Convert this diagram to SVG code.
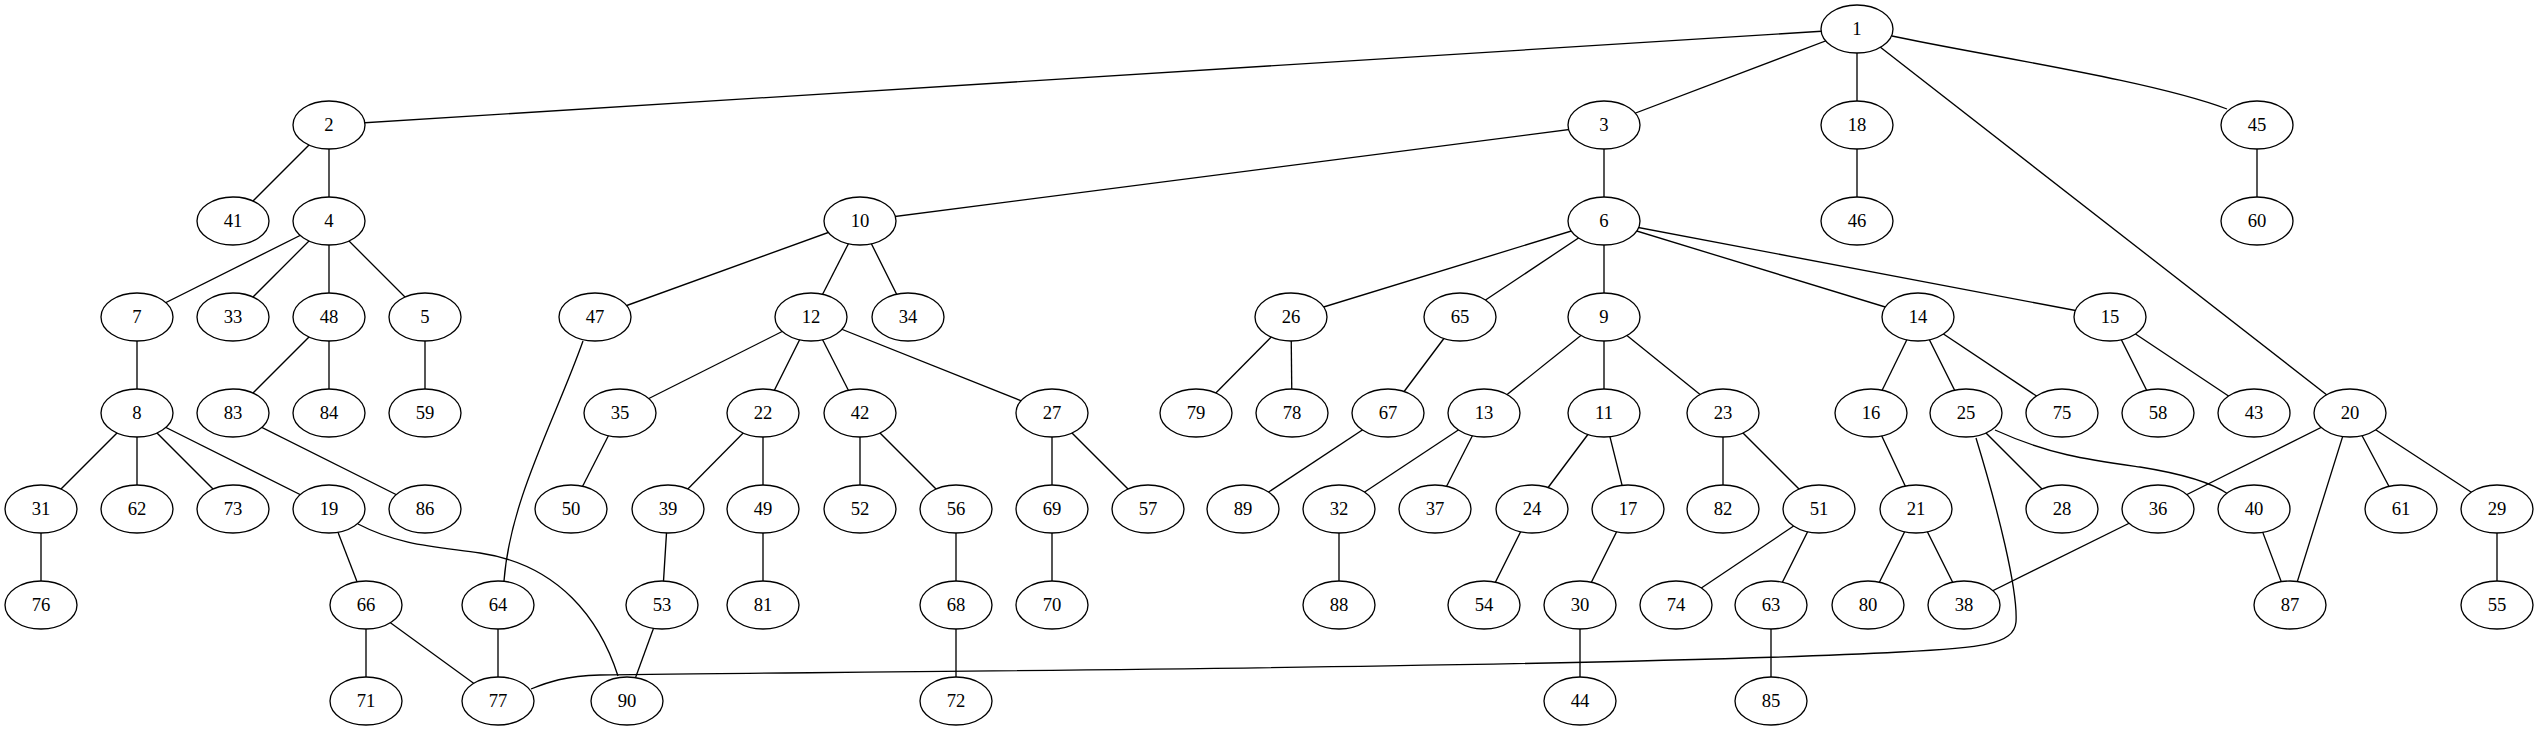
<svg xmlns="http://www.w3.org/2000/svg" width="2539" height="731" viewBox="0 0 2539 731">
<style>
.n ellipse{fill:#fff;stroke:#000;stroke-width:1.33}
.n text{font-family:"Liberation Serif",serif;font-size:18.67px;text-anchor:middle;fill:#000}
#edges line,#edges path{stroke:#000;stroke-width:1.33;fill:none}
</style>
<rect width="2539" height="731" fill="#fff"/>
<g id="edges">
<line x1="1857" y1="29" x2="329" y2="125"/>
<line x1="1857" y1="29" x2="1604" y2="125"/>
<line x1="1857" y1="29" x2="1857" y2="125"/>
<path d="M1892,36 C1980,55 2150,80 2227,109"/>
<line x1="1857" y1="29" x2="2350" y2="413"/>
<line x1="329" y1="125" x2="233" y2="221"/>
<line x1="329" y1="125" x2="329" y2="221"/>
<line x1="1604" y1="125" x2="860" y2="221"/>
<line x1="1604" y1="125" x2="1604" y2="221"/>
<line x1="1857" y1="125" x2="1857" y2="221"/>
<line x1="2257" y1="125" x2="2257" y2="221"/>
<line x1="329" y1="221" x2="137" y2="317"/>
<line x1="329" y1="221" x2="233" y2="317"/>
<line x1="329" y1="221" x2="329" y2="317"/>
<line x1="329" y1="221" x2="425" y2="317"/>
<line x1="860" y1="221" x2="595" y2="317"/>
<line x1="860" y1="221" x2="811" y2="317"/>
<line x1="860" y1="221" x2="908" y2="317"/>
<line x1="1604" y1="221" x2="1291" y2="317"/>
<line x1="1604" y1="221" x2="1460" y2="317"/>
<line x1="1604" y1="221" x2="1604" y2="317"/>
<line x1="1604" y1="221" x2="1918" y2="317"/>
<line x1="1604" y1="221" x2="2110" y2="317"/>
<line x1="137" y1="317" x2="137" y2="413"/>
<line x1="329" y1="317" x2="233" y2="413"/>
<line x1="329" y1="317" x2="329" y2="413"/>
<line x1="425" y1="317" x2="425" y2="413"/>
<path d="M583,341 C555,420 510,500 504,581"/>
<line x1="811" y1="317" x2="620" y2="413"/>
<line x1="811" y1="317" x2="763" y2="413"/>
<line x1="811" y1="317" x2="860" y2="413"/>
<line x1="811" y1="317" x2="1052" y2="413"/>
<line x1="1291" y1="317" x2="1196" y2="413"/>
<line x1="1291" y1="317" x2="1292" y2="413"/>
<line x1="1460" y1="317" x2="1388" y2="413"/>
<line x1="1604" y1="317" x2="1484" y2="413"/>
<line x1="1604" y1="317" x2="1604" y2="413"/>
<line x1="1604" y1="317" x2="1723" y2="413"/>
<line x1="1918" y1="317" x2="1871" y2="413"/>
<line x1="1918" y1="317" x2="1966" y2="413"/>
<line x1="1918" y1="317" x2="2062" y2="413"/>
<line x1="2110" y1="317" x2="2158" y2="413"/>
<line x1="2110" y1="317" x2="2254" y2="413"/>
<line x1="2350" y1="413" x2="2158" y2="509"/>
<line x1="2350" y1="413" x2="2290" y2="605"/>
<line x1="2350" y1="413" x2="2401" y2="509"/>
<line x1="2350" y1="413" x2="2497" y2="509"/>
<line x1="137" y1="413" x2="41" y2="509"/>
<line x1="137" y1="413" x2="137" y2="509"/>
<line x1="137" y1="413" x2="233" y2="509"/>
<line x1="137" y1="413" x2="329" y2="509"/>
<line x1="233" y1="413" x2="425" y2="509"/>
<line x1="620" y1="413" x2="571" y2="509"/>
<line x1="763" y1="413" x2="668" y2="509"/>
<line x1="763" y1="413" x2="763" y2="509"/>
<line x1="860" y1="413" x2="860" y2="509"/>
<line x1="860" y1="413" x2="956" y2="509"/>
<line x1="1052" y1="413" x2="1052" y2="509"/>
<line x1="1052" y1="413" x2="1148" y2="509"/>
<line x1="1388" y1="413" x2="1243" y2="509"/>
<line x1="1484" y1="413" x2="1339" y2="509"/>
<line x1="1484" y1="413" x2="1435" y2="509"/>
<line x1="1604" y1="413" x2="1532" y2="509"/>
<line x1="1604" y1="413" x2="1628" y2="509"/>
<line x1="1723" y1="413" x2="1723" y2="509"/>
<line x1="1723" y1="413" x2="1819" y2="509"/>
<line x1="1871" y1="413" x2="1916" y2="509"/>
<line x1="1966" y1="413" x2="2062" y2="509"/>
<path d="M1995,430 C2050,455 2090,460 2140,467 C2190,475 2215,485 2228,494"/>
<path d="M1976,438 C1998,510 2018,590 2016,622 C2014,645 1980,648 1900,652 C1600,668 800,672 600,675 C565,676 548,682 531,689"/>
<line x1="2158" y1="509" x2="1964" y2="605"/>
<line x1="2254" y1="509" x2="2290" y2="605"/>
<line x1="2497" y1="509" x2="2497" y2="605"/>
<line x1="41" y1="509" x2="41" y2="605"/>
<line x1="329" y1="509" x2="366" y2="605"/>
<path d="M358,524 C400,546 440,547 480,553 C560,565 600,620 618,676"/>
<line x1="668" y1="509" x2="662" y2="605"/>
<line x1="763" y1="509" x2="763" y2="605"/>
<line x1="956" y1="509" x2="956" y2="605"/>
<line x1="1052" y1="509" x2="1052" y2="605"/>
<line x1="1339" y1="509" x2="1339" y2="605"/>
<line x1="1532" y1="509" x2="1484" y2="605"/>
<line x1="1628" y1="509" x2="1580" y2="605"/>
<line x1="1819" y1="509" x2="1676" y2="605"/>
<line x1="1819" y1="509" x2="1771" y2="605"/>
<line x1="1916" y1="509" x2="1868" y2="605"/>
<line x1="1916" y1="509" x2="1964" y2="605"/>
<line x1="366" y1="605" x2="366" y2="701"/>
<line x1="366" y1="605" x2="498" y2="701"/>
<line x1="498" y1="605" x2="498" y2="701"/>
<line x1="662" y1="605" x2="627" y2="701"/>
<line x1="956" y1="605" x2="956" y2="701"/>
<line x1="1580" y1="605" x2="1580" y2="701"/>
<line x1="1771" y1="605" x2="1771" y2="701"/>
</g>
<g id="n1" class="n"><ellipse cx="1857" cy="29" rx="36" ry="24"/><text x="1857" y="35">1</text></g>
<g id="n2" class="n"><ellipse cx="329" cy="125" rx="36" ry="24"/><text x="329" y="131">2</text></g>
<g id="n3" class="n"><ellipse cx="1604" cy="125" rx="36" ry="24"/><text x="1604" y="131">3</text></g>
<g id="n18" class="n"><ellipse cx="1857" cy="125" rx="36" ry="24"/><text x="1857" y="131">18</text></g>
<g id="n45" class="n"><ellipse cx="2257" cy="125" rx="36" ry="24"/><text x="2257" y="131">45</text></g>
<g id="n41" class="n"><ellipse cx="233" cy="221" rx="36" ry="24"/><text x="233" y="227">41</text></g>
<g id="n4" class="n"><ellipse cx="329" cy="221" rx="36" ry="24"/><text x="329" y="227">4</text></g>
<g id="n10" class="n"><ellipse cx="860" cy="221" rx="36" ry="24"/><text x="860" y="227">10</text></g>
<g id="n6" class="n"><ellipse cx="1604" cy="221" rx="36" ry="24"/><text x="1604" y="227">6</text></g>
<g id="n46" class="n"><ellipse cx="1857" cy="221" rx="36" ry="24"/><text x="1857" y="227">46</text></g>
<g id="n60" class="n"><ellipse cx="2257" cy="221" rx="36" ry="24"/><text x="2257" y="227">60</text></g>
<g id="n7" class="n"><ellipse cx="137" cy="317" rx="36" ry="24"/><text x="137" y="323">7</text></g>
<g id="n33" class="n"><ellipse cx="233" cy="317" rx="36" ry="24"/><text x="233" y="323">33</text></g>
<g id="n48" class="n"><ellipse cx="329" cy="317" rx="36" ry="24"/><text x="329" y="323">48</text></g>
<g id="n5" class="n"><ellipse cx="425" cy="317" rx="36" ry="24"/><text x="425" y="323">5</text></g>
<g id="n47" class="n"><ellipse cx="595" cy="317" rx="36" ry="24"/><text x="595" y="323">47</text></g>
<g id="n12" class="n"><ellipse cx="811" cy="317" rx="36" ry="24"/><text x="811" y="323">12</text></g>
<g id="n34" class="n"><ellipse cx="908" cy="317" rx="36" ry="24"/><text x="908" y="323">34</text></g>
<g id="n26" class="n"><ellipse cx="1291" cy="317" rx="36" ry="24"/><text x="1291" y="323">26</text></g>
<g id="n65" class="n"><ellipse cx="1460" cy="317" rx="36" ry="24"/><text x="1460" y="323">65</text></g>
<g id="n9" class="n"><ellipse cx="1604" cy="317" rx="36" ry="24"/><text x="1604" y="323">9</text></g>
<g id="n14" class="n"><ellipse cx="1918" cy="317" rx="36" ry="24"/><text x="1918" y="323">14</text></g>
<g id="n15" class="n"><ellipse cx="2110" cy="317" rx="36" ry="24"/><text x="2110" y="323">15</text></g>
<g id="n8" class="n"><ellipse cx="137" cy="413" rx="36" ry="24"/><text x="137" y="419">8</text></g>
<g id="n83" class="n"><ellipse cx="233" cy="413" rx="36" ry="24"/><text x="233" y="419">83</text></g>
<g id="n84" class="n"><ellipse cx="329" cy="413" rx="36" ry="24"/><text x="329" y="419">84</text></g>
<g id="n59" class="n"><ellipse cx="425" cy="413" rx="36" ry="24"/><text x="425" y="419">59</text></g>
<g id="n35" class="n"><ellipse cx="620" cy="413" rx="36" ry="24"/><text x="620" y="419">35</text></g>
<g id="n22" class="n"><ellipse cx="763" cy="413" rx="36" ry="24"/><text x="763" y="419">22</text></g>
<g id="n42" class="n"><ellipse cx="860" cy="413" rx="36" ry="24"/><text x="860" y="419">42</text></g>
<g id="n27" class="n"><ellipse cx="1052" cy="413" rx="36" ry="24"/><text x="1052" y="419">27</text></g>
<g id="n79" class="n"><ellipse cx="1196" cy="413" rx="36" ry="24"/><text x="1196" y="419">79</text></g>
<g id="n78" class="n"><ellipse cx="1292" cy="413" rx="36" ry="24"/><text x="1292" y="419">78</text></g>
<g id="n67" class="n"><ellipse cx="1388" cy="413" rx="36" ry="24"/><text x="1388" y="419">67</text></g>
<g id="n13" class="n"><ellipse cx="1484" cy="413" rx="36" ry="24"/><text x="1484" y="419">13</text></g>
<g id="n11" class="n"><ellipse cx="1604" cy="413" rx="36" ry="24"/><text x="1604" y="419">11</text></g>
<g id="n23" class="n"><ellipse cx="1723" cy="413" rx="36" ry="24"/><text x="1723" y="419">23</text></g>
<g id="n16" class="n"><ellipse cx="1871" cy="413" rx="36" ry="24"/><text x="1871" y="419">16</text></g>
<g id="n25" class="n"><ellipse cx="1966" cy="413" rx="36" ry="24"/><text x="1966" y="419">25</text></g>
<g id="n75" class="n"><ellipse cx="2062" cy="413" rx="36" ry="24"/><text x="2062" y="419">75</text></g>
<g id="n58" class="n"><ellipse cx="2158" cy="413" rx="36" ry="24"/><text x="2158" y="419">58</text></g>
<g id="n43" class="n"><ellipse cx="2254" cy="413" rx="36" ry="24"/><text x="2254" y="419">43</text></g>
<g id="n20" class="n"><ellipse cx="2350" cy="413" rx="36" ry="24"/><text x="2350" y="419">20</text></g>
<g id="n31" class="n"><ellipse cx="41" cy="509" rx="36" ry="24"/><text x="41" y="515">31</text></g>
<g id="n62" class="n"><ellipse cx="137" cy="509" rx="36" ry="24"/><text x="137" y="515">62</text></g>
<g id="n73" class="n"><ellipse cx="233" cy="509" rx="36" ry="24"/><text x="233" y="515">73</text></g>
<g id="n19" class="n"><ellipse cx="329" cy="509" rx="36" ry="24"/><text x="329" y="515">19</text></g>
<g id="n86" class="n"><ellipse cx="425" cy="509" rx="36" ry="24"/><text x="425" y="515">86</text></g>
<g id="n50" class="n"><ellipse cx="571" cy="509" rx="36" ry="24"/><text x="571" y="515">50</text></g>
<g id="n39" class="n"><ellipse cx="668" cy="509" rx="36" ry="24"/><text x="668" y="515">39</text></g>
<g id="n49" class="n"><ellipse cx="763" cy="509" rx="36" ry="24"/><text x="763" y="515">49</text></g>
<g id="n52" class="n"><ellipse cx="860" cy="509" rx="36" ry="24"/><text x="860" y="515">52</text></g>
<g id="n56" class="n"><ellipse cx="956" cy="509" rx="36" ry="24"/><text x="956" y="515">56</text></g>
<g id="n69" class="n"><ellipse cx="1052" cy="509" rx="36" ry="24"/><text x="1052" y="515">69</text></g>
<g id="n57" class="n"><ellipse cx="1148" cy="509" rx="36" ry="24"/><text x="1148" y="515">57</text></g>
<g id="n89" class="n"><ellipse cx="1243" cy="509" rx="36" ry="24"/><text x="1243" y="515">89</text></g>
<g id="n32" class="n"><ellipse cx="1339" cy="509" rx="36" ry="24"/><text x="1339" y="515">32</text></g>
<g id="n37" class="n"><ellipse cx="1435" cy="509" rx="36" ry="24"/><text x="1435" y="515">37</text></g>
<g id="n24" class="n"><ellipse cx="1532" cy="509" rx="36" ry="24"/><text x="1532" y="515">24</text></g>
<g id="n17" class="n"><ellipse cx="1628" cy="509" rx="36" ry="24"/><text x="1628" y="515">17</text></g>
<g id="n82" class="n"><ellipse cx="1723" cy="509" rx="36" ry="24"/><text x="1723" y="515">82</text></g>
<g id="n51" class="n"><ellipse cx="1819" cy="509" rx="36" ry="24"/><text x="1819" y="515">51</text></g>
<g id="n21" class="n"><ellipse cx="1916" cy="509" rx="36" ry="24"/><text x="1916" y="515">21</text></g>
<g id="n28" class="n"><ellipse cx="2062" cy="509" rx="36" ry="24"/><text x="2062" y="515">28</text></g>
<g id="n36" class="n"><ellipse cx="2158" cy="509" rx="36" ry="24"/><text x="2158" y="515">36</text></g>
<g id="n40" class="n"><ellipse cx="2254" cy="509" rx="36" ry="24"/><text x="2254" y="515">40</text></g>
<g id="n61" class="n"><ellipse cx="2401" cy="509" rx="36" ry="24"/><text x="2401" y="515">61</text></g>
<g id="n29" class="n"><ellipse cx="2497" cy="509" rx="36" ry="24"/><text x="2497" y="515">29</text></g>
<g id="n76" class="n"><ellipse cx="41" cy="605" rx="36" ry="24"/><text x="41" y="611">76</text></g>
<g id="n66" class="n"><ellipse cx="366" cy="605" rx="36" ry="24"/><text x="366" y="611">66</text></g>
<g id="n64" class="n"><ellipse cx="498" cy="605" rx="36" ry="24"/><text x="498" y="611">64</text></g>
<g id="n53" class="n"><ellipse cx="662" cy="605" rx="36" ry="24"/><text x="662" y="611">53</text></g>
<g id="n81" class="n"><ellipse cx="763" cy="605" rx="36" ry="24"/><text x="763" y="611">81</text></g>
<g id="n68" class="n"><ellipse cx="956" cy="605" rx="36" ry="24"/><text x="956" y="611">68</text></g>
<g id="n70" class="n"><ellipse cx="1052" cy="605" rx="36" ry="24"/><text x="1052" y="611">70</text></g>
<g id="n88" class="n"><ellipse cx="1339" cy="605" rx="36" ry="24"/><text x="1339" y="611">88</text></g>
<g id="n54" class="n"><ellipse cx="1484" cy="605" rx="36" ry="24"/><text x="1484" y="611">54</text></g>
<g id="n30" class="n"><ellipse cx="1580" cy="605" rx="36" ry="24"/><text x="1580" y="611">30</text></g>
<g id="n74" class="n"><ellipse cx="1676" cy="605" rx="36" ry="24"/><text x="1676" y="611">74</text></g>
<g id="n63" class="n"><ellipse cx="1771" cy="605" rx="36" ry="24"/><text x="1771" y="611">63</text></g>
<g id="n80" class="n"><ellipse cx="1868" cy="605" rx="36" ry="24"/><text x="1868" y="611">80</text></g>
<g id="n38" class="n"><ellipse cx="1964" cy="605" rx="36" ry="24"/><text x="1964" y="611">38</text></g>
<g id="n87" class="n"><ellipse cx="2290" cy="605" rx="36" ry="24"/><text x="2290" y="611">87</text></g>
<g id="n55" class="n"><ellipse cx="2497" cy="605" rx="36" ry="24"/><text x="2497" y="611">55</text></g>
<g id="n71" class="n"><ellipse cx="366" cy="701" rx="36" ry="24"/><text x="366" y="707">71</text></g>
<g id="n77" class="n"><ellipse cx="498" cy="701" rx="36" ry="24"/><text x="498" y="707">77</text></g>
<g id="n90" class="n"><ellipse cx="627" cy="701" rx="36" ry="24"/><text x="627" y="707">90</text></g>
<g id="n72" class="n"><ellipse cx="956" cy="701" rx="36" ry="24"/><text x="956" y="707">72</text></g>
<g id="n44" class="n"><ellipse cx="1580" cy="701" rx="36" ry="24"/><text x="1580" y="707">44</text></g>
<g id="n85" class="n"><ellipse cx="1771" cy="701" rx="36" ry="24"/><text x="1771" y="707">85</text></g>
</svg>
